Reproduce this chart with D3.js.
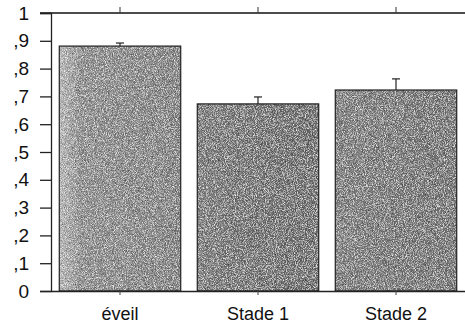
<!DOCTYPE html>
<meta charset="utf-8">
<style>
body { margin: 0; background: #fff; }
.tick text { font-family: "Liberation Sans", Arial, sans-serif; }
</style>
<svg width="465" height="324"></svg>
<script src="https://d3js.org/d3.v7.min.js"></script>
<script>

var categories = ["éveil", "Stade 1", "Stade 2"];
var means = [0.881, 0.673, 0.723];
var errors = [0.011, 0.025, 0.040];
var yTicks = [0, 0.1, 0.2, 0.3, 0.4, 0.5, 0.6, 0.7, 0.8, 0.9, 1];
var yTickLabels = ["0", ",1", ",2", ",3", ",4", ",5", ",6", ",7", ",8", ",9", "1"];

var svg = d3.select("svg"),
    margin = {top: 13, right: 0, bottom: 33, left: 51},
    width = svg.attr("width") - margin.left - margin.right,
    height = svg.attr("height") - margin.top - margin.bottom,
    g = svg.append("g").attr("transform", "translate(" + margin.left + "," + margin.top + ")");

var x = d3.scaleBand().domain(categories).range([0, width]).paddingInner(0.12).paddingOuter(0.06),
    y = d3.scaleLinear().domain([0, 1]).range([height, 0]);

// grain texture + shading
var defs = svg.append("defs");
var f = defs.append("filter").attr("id", "grain").attr("x", 0).attr("y", 0).attr("width", 1).attr("height", 1);
f.append("feTurbulence").attr("type", "fractalNoise").attr("baseFrequency", 1.1).attr("numOctaves", 2).attr("seed", 4).attr("result", "n");
f.append("feColorMatrix").attr("in", "n").attr("type", "matrix")
  .attr("values", "0 0 0 0 1  0 0 0 0 1  0 0 0 0 1  0 0 0 2.2 -0.95").attr("result", "w");
f.append("feComposite").attr("in", "w").attr("in2", "SourceGraphic").attr("operator", "in").attr("result", "wc");
f.append("feTurbulence").attr("type", "fractalNoise").attr("baseFrequency", 1.3).attr("numOctaves", 1).attr("seed", 9).attr("result", "n2");
f.append("feColorMatrix").attr("in", "n2").attr("type", "matrix")
  .attr("values", "0 0 0 0 0  0 0 0 0 0  0 0 0 0 0  0 0 0 2 -0.9").attr("result", "b");
f.append("feComposite").attr("in", "b").attr("in2", "SourceGraphic").attr("operator", "in").attr("result", "bc");
var m = f.append("feMerge");
m.append("feMergeNode").attr("in", "SourceGraphic");
m.append("feMergeNode").attr("in", "wc");
m.append("feMergeNode").attr("in", "bc");

var shades = [
  [["0%", "#bcbcbc"], ["18%", "#8c8c8c"], ["100%", "#7e7e7e"]],
  [["0%", "#777"], ["50%", "#6c6c6c"], ["100%", "#666"]],
  [["0%", "#7a7a7a"], ["50%", "#737373"], ["100%", "#6e6e6e"]]
];
shades.forEach(function(s, i) {
  var lg = defs.append("linearGradient").attr("id", "shade" + i);
  s.forEach(function(st) { lg.append("stop").attr("offset", st[0]).attr("stop-color", st[1]); });
});

// top frame line with ticks
g.append("line").attr("x1", -11).attr("x2", width).attr("y1", 0).attr("y2", 0)
  .attr("stroke", "#111").attr("stroke-width", 1.5);
g.selectAll(".toptick").data(categories).enter().append("line")
  .attr("x1", function(d) { return x(d) + x.bandwidth() / 2; })
  .attr("x2", function(d) { return x(d) + x.bandwidth() / 2; })
  .attr("y1", -6).attr("y2", 0).attr("stroke", "#333");

// bars
g.selectAll(".bar").data(categories).enter().append("rect")
  .attr("class", "bar")
  .attr("x", function(d) { return x(d); })
  .attr("y", function(d, i) { return y(means[i]); })
  .attr("width", x.bandwidth())
  .attr("height", function(d, i) { return height - y(means[i]); })
  .attr("fill", function(d, i) { return "url(#shade" + i + ")"; })
  .attr("filter", "url(#grain)");
g.selectAll(".barline").data(categories).enter().append("rect")
  .attr("x", function(d) { return x(d); })
  .attr("y", function(d, i) { return y(means[i]); })
  .attr("width", x.bandwidth())
  .attr("height", function(d, i) { return height - y(means[i]); })
  .attr("fill", "none").attr("stroke", "#222").attr("stroke-width", 1.2);

// error bars
var eb = g.selectAll(".err").data(categories).enter().append("g");
eb.append("line")
  .attr("x1", function(d) { return x(d) + x.bandwidth() / 2; })
  .attr("x2", function(d) { return x(d) + x.bandwidth() / 2; })
  .attr("y1", function(d, i) { return y(means[i]); })
  .attr("y2", function(d, i) { return y(means[i] + errors[i]); })
  .attr("stroke", "#222").attr("stroke-width", 1.2);
eb.append("line")
  .attr("x1", function(d) { return x(d) + x.bandwidth() / 2 - 4; })
  .attr("x2", function(d) { return x(d) + x.bandwidth() / 2 + 4; })
  .attr("y1", function(d, i) { return y(means[i] + errors[i]); })
  .attr("y2", function(d, i) { return y(means[i] + errors[i]); })
  .attr("stroke", "#222").attr("stroke-width", 1.2);

// y axis
var yAxis = g.append("g")
  .call(d3.axisLeft(y).tickValues(yTicks).tickSize(11).tickPadding(11)
    .tickFormat(function(d, i) { return yTickLabels[i]; }));
yAxis.select(".domain").attr("stroke", "#222").attr("stroke-width", 1.3);
yAxis.selectAll(".tick line").attr("stroke", "#222").attr("stroke-width", 1.3);
yAxis.selectAll(".tick text").style("font-size", "19px").attr("fill", "#111");

// x axis
var xAxis = g.append("g").attr("transform", "translate(0," + height + ")")
  .call(d3.axisBottom(x).tickSize(4).tickSizeOuter(0).tickPadding(12));
xAxis.select(".domain").attr("stroke", "#222").attr("stroke-width", 1.5);
xAxis.selectAll(".tick line").attr("stroke", "#444");
xAxis.selectAll(".tick text").style("font-size", "18px").attr("fill", "#111");

</script>
